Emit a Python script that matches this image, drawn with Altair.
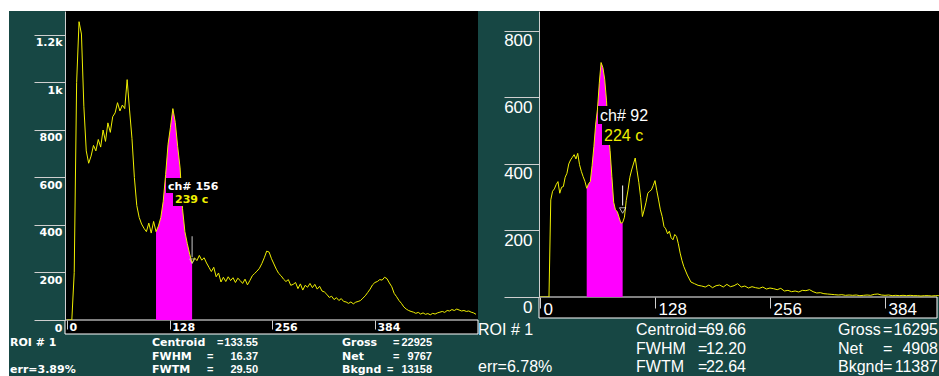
import altair as alt
import pandas as pd

# ---------------- spectrum A (left detector) ----------------
chan_a = list(range(0, 512, 3))
counts_a = [
    0, 0, 0, 200, 1000, 1256, 1204, 900, 712, 660,
    690, 735, 712, 760, 728, 800, 752, 830, 790, 856,
    872, 915, 880, 905, 890, 1012, 884, 765, 600, 482,
    432, 404, 386, 372, 408, 366, 415, 372, 396, 432,
    500, 613, 740, 812, 890, 832, 730, 640, 470, 372,
    322, 277, 239, 262, 250, 272, 252, 262, 240, 222,
    204, 222, 182, 198, 160, 180, 162, 182, 166, 178,
    158, 176, 166, 154, 172, 148, 166, 186, 196, 206,
    218, 238, 262, 290, 286, 258, 236, 214, 196, 186,
    172, 162, 170, 146, 150, 158, 132, 152, 126, 146,
    138, 154, 136, 150, 130, 142, 122, 118, 108, 95,
    100, 86, 94, 82, 90, 78, 76, 70, 76, 68,
    75, 78, 82, 92, 102, 116, 130, 148, 158, 162,
    170, 168, 180, 174, 156, 140, 112, 98, 82, 70,
    55, 46, 40, 36, 33, 28, 32, 25, 30, 24,
    27, 22, 28, 25, 30, 33, 36, 32, 40, 38,
    44, 40, 46, 42, 38, 40, 36, 38, 33, 30,
    24,
]
roi_a = [111, 156]
cursor_a = 156
cursor_counts_a = 239
stat_vals_a = ["133.55", "16.37", "29.50"]
area_vals_a = ["22925", "9767", "13158"]
err_a = "3.89%"
yticks_a = [0, 200, 400, 600, 800, 1000, 1200]
ylabels_a = ["0", "200", "400", "600", "800", "1k", "1.2k"]

# ---------------- spectrum B (right detector) ----------------
chan_b = list(range(0, 160, 2)) + list(range(160, 448, 4))
counts_b = [
    0, 0, 0, 0, 0, 0, 292, 318, 325, 338,
    347, 312, 330, 332, 360, 372, 400, 412, 420, 428,
    415, 432, 398, 378, 362, 348, 327, 340, 347, 395,
    452, 520, 565, 643, 705, 690, 655, 592, 500, 440,
    362, 285, 262, 257, 240, 222, 224, 240, 290, 322,
    360, 382, 400, 418, 380, 345, 300, 242, 262, 285,
    312, 318, 322, 335, 350, 320, 292, 262, 242, 212,
    205, 190, 198, 178, 172, 188, 182, 160, 132, 110,
    92, 66, 45, 40, 35, 33, 30, 36, 28, 34,
    36, 30, 38, 31, 34, 40, 30, 33, 27, 31,
    28, 26, 30, 24, 27, 25, 22, 26, 18, 20,
    16, 18, 15, 20, 19, 22, 16, 12, 13, 10,
    9, 8, 7, 6, 7, 5, 6, 5, 6, 4,
    5, 6, 5, 8, 9, 6, 5, 6, 4, 5,
    4, 5, 4, 5, 4, 4, 3, 4, 4, 3,
    4, 4,
]
roi_b = [52, 92]
cursor_b = 92
cursor_counts_b = 224
stat_vals_b = ["69.66", "12.20", "22.64"]
area_vals_b = ["16295", "4908", "11387"]
err_b = "6.78%"
yticks_b = [0, 200, 400, 600, 800]
ylabels_b = ["0", "200", "400", "600", "800"]

# shared
xticks = [0, 128, 256, 384]
stat_names = ["Centroid", "FWHM", "FWTM"]
area_names = ["Gross", "Net", "Bkgnd"]
roi_title = "ROI # 1"

TEAL = "#174744"
YELLOW = "#f0f000"
MAGENTA = "#ff00ff"
GRAY = "#cfcfcf"

ONE = pd.DataFrame({"k": [0]})


def label_expr(vals, labels):
    arr_l = ",".join("'%s'" % s for s in labels)
    arr_v = ",".join(str(v) for v in vals)
    return "[%s][indexof([%s], datum.value)]" % (arr_l, arr_v)


def rect_at(x1, y1, x2, y2, org, fill):
    return alt.Chart(ONE).mark_rect(fill=fill).encode(
        x=alt.value(x1 - org[0]), x2=alt.value(x2 - org[0]),
        y=alt.value(y1 - org[1]), y2=alt.value(y2 - org[1]),
    )


def text_at(x, y, s, org, font, color="white", align="left"):
    return alt.Chart(ONE).mark_text(
        text=s, align=align, baseline="alphabetic", color=color, **font
    ).encode(x=alt.value(x - org[0]), y=alt.value(y - org[1]))


def panel(chan, counts, roi, cursor, cursor_counts, yticks, ylabels,
          stat_vals, area_vals, err, g):
    org = g["org"]
    w, h = g["w"], g["h"]
    font, vfont = g["font"], g["vfont"]
    axfont = dict(labelFont=g["axfont"]["font"], labelFontWeight=g["axfont"]["fontWeight"])
    df = pd.DataFrame({"ch": chan, "counts": counts})

    X = alt.X("ch:Q", scale=alt.Scale(domain=g["xdom"], nice=False, zero=False),
              axis=alt.Axis(values=xticks, title=None, grid=False, domain=False,
                            tickColor=GRAY, tickSize=g["xtick"],
                            labelPadding=g["xpad"], labelAlign="left",
                            labelBaseline="top", labelOffset=g["xdx"],
                            labelColor="white", labelFontSize=g["xfs"],
                            labelOverlap=False, labelFlush=False, zindex=1,
                            **axfont))
    Y = alt.Y("counts:Q", scale=alt.Scale(domain=g["ydom"], nice=False),
              axis=alt.Axis(values=yticks, labelExpr=label_expr(yticks, ylabels),
                            title=None, grid=False, domainColor=GRAY,
                            tickColor=GRAY, tickSize=g["ytick"],
                            labelPadding=g["ypad"], labelAlign="right",
                            labelBaseline="top", labelOffset=g["ydy"],
                            labelColor="white", labelFontSize=g["yfs"],
                            labelOverlap=False, labelFlush=False, zindex=1,
                            **axfont))

    layers = list(g["backdrop"])
    # channel-axis strip under the plot
    layers.append(alt.Chart(ONE).mark_rect(fill="black", stroke="white", strokeWidth=1).encode(
        x=alt.value(0), x2=alt.value(g["strip_w"]),
        y=alt.value(h), y2=alt.value(h + g["strip_h"])))

    roi_fill = alt.Chart(df).transform_filter(
        (alt.datum.ch >= roi[0]) & (alt.datum.ch <= roi[1])
    ).mark_area(color=MAGENTA, clip=True).encode(x=X, y=Y)
    trace = alt.Chart(df).mark_line(color=YELLOW, strokeWidth=1, clip=True).encode(x=X, y=Y)
    layers += [roi_fill, trace]

    cur = pd.DataFrame({"ch": [cursor], "counts": [cursor_counts]})
    layers.append(alt.Chart(cur).mark_rule(color=g["cur_col"], strokeWidth=1,
                                           yOffset=g["rule_off"][0], y2Offset=g["rule_off"][1]
                                           ).encode(x=X, y=Y, y2="counts:Q"))
    layers.append(alt.Chart(cur).mark_point(shape="triangle-down", filled=False,
                                            color=g["cur_col"], size=g["tri"],
                                            strokeWidth=1, yOffset=g["tri_off"]
                                            ).encode(x=X, y=Y))

    # cursor read-out
    (b1, b2, t1, t2) = g["readout"]
    layers.append(rect_at(*b1, org, "black"))
    layers.append(rect_at(*b2, org, "black"))
    layers.append(text_at(t1[0], t1[1], "ch# %d" % cursor, org, font))
    layers.append(text_at(t2[0], t2[1], "%d c" % cursor_counts, org, font, color=YELLOW))

    # ROI statistics
    rows = g["rows"]
    layers.append(text_at(g["c0"], rows[0], roi_title, org, font))
    layers.append(text_at(g["c0"], rows[2], "err=" + err, org, font))
    for i in range(3):
        layers.append(text_at(g["c1"], rows[i], stat_names[i], org, font))
        layers.append(text_at(g["eq1"][i], rows[i], "=", org, vfont))
        layers.append(text_at(g["v1"], rows[i], stat_vals[i], org, vfont, align="right"))
        layers.append(text_at(g["c2"], rows[i], area_names[i], org, font))
        layers.append(text_at(g["eq2"][i], rows[i], "=", org, vfont))
        layers.append(text_at(g["v2"], rows[i], area_vals[i], org, vfont, align="right"))

    return alt.layer(*layers).properties(width=w, height=h)


org_a = (65, 11)
font_a = dict(font="DejaVu Sans", fontWeight="bold", fontSize=11)
vfont_a = dict(font="Liberation Sans", fontWeight="bold", fontSize=11)
geo_a = dict(
    org=org_a, w=413, h=309, xdom=[-2.5, 512.5], ydom=[0, 1301],
    font=font_a, vfont=vfont_a, axfont=font_a,
    xtick=9, xpad=-8, xdx=2, xfs=11,
    ytick=31, ypad=-28, ydy=2, yfs=11,
    strip_w=413, strip_h=14, cur_col="#c8c8c8",
    rule_off=(-6, -27), tri=28, tri_off=-2,
    readout=((166, 178, 218, 193), (173, 193, 211, 206), (168, 190), (175, 203)),
    rows=[346, 360, 373], c0=10, c1=152, eq1=[217, 207, 207], v1=258,
    c2=342, eq2=[393, 393, 387], v2=432,
    backdrop=[
        rect_at(0, 0, 939, 376, org_a, "white"),
        rect_at(9, 11, 939, 376, org_a, TEAL),
        rect_at(65, 11, 478, 320, org_a, "black"),
    ],
)

org_b = (539, 11)
font_b = dict(font="Liberation Sans", fontWeight="normal", fontSize=16)
axfont_b = dict(font="Liberation Sans", fontWeight="normal", fontSize=17)
geo_b = dict(
    org=org_b, w=400, h=286, xdom=[-1.1, 444.1], ydom=[0, 860],
    font=font_b, vfont=font_b, axfont=axfont_b,
    xtick=11, xpad=-7, xdx=3, xfs=17,
    ytick=35, ypad=-28, ydy=2, yfs=17,
    strip_w=398, strip_h=21, cur_col="white",
    rule_off=(-17, -37), tri=40, tri_off=-12,
    readout=((598, 106, 646, 124), (602, 124, 645, 145), (600, 121), (604, 141)),
    rows=[335, 354, 372], c0=478, c1=636, eq1=[698, 698, 698], v1=746,
    c2=838, eq2=[883, 883, 883], v2=938,
    backdrop=[],
)

left = panel(chan_a, counts_a, roi_a, cursor_a, cursor_counts_a, yticks_a, ylabels_a,
             stat_vals_a, area_vals_a, err_a, geo_a)
right = panel(chan_b, counts_b, roi_b, cursor_b, cursor_counts_b, yticks_b, ylabels_b,
              stat_vals_b, area_vals_b, err_b, geo_b)

chart = alt.hconcat(left, right, spacing=61, bounds="flush").properties(
    padding=0, background="white"
).configure_view(fill="black", strokeWidth=0)

chart.save("out.html", embed_options={"renderer": "svg", "actions": False})
